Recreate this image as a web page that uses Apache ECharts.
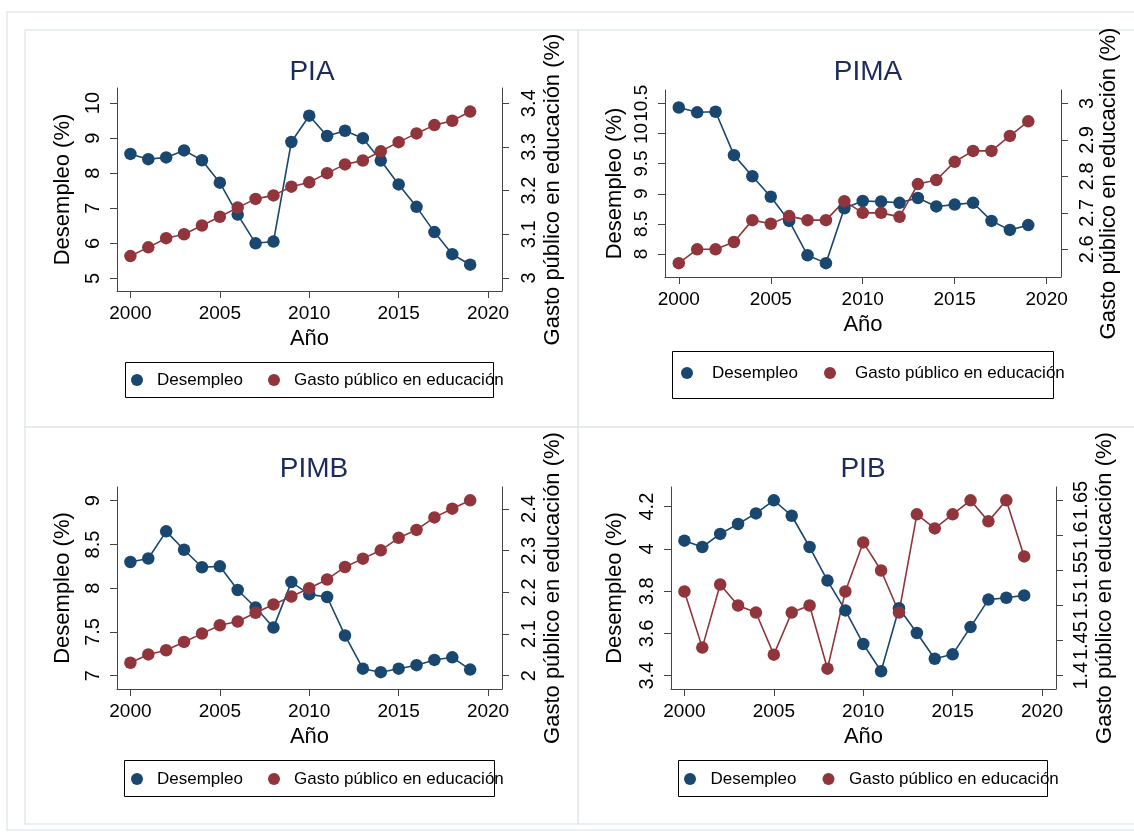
<!DOCTYPE html>
<html>
<head>
<meta charset="utf-8">
<style>
html,body{margin:0;padding:0;background:#fff;}
#c{width:1134px;height:833px;}
</style>
<script src="https://cdn.jsdelivr.net/npm/echarts@6/dist/echarts.min.js"></script>
</head>
<body>
<div id="c"></div>
<script>
// ---------- DATA ----------
const years = [2000,2001,2002,2003,2004,2005,2006,2007,2008,2009,2010,2011,2012,2013,2014,2015,2016,2017,2018,2019];

const panelTitles = ['PIA','PIMA','PIMB','PIB'];
const seriesNames = ['Desempleo','Gasto público en educación'];

const piaDesempleo  = [8.55,8.40,8.45,8.65,8.37,7.73,6.82,6.00,6.05,8.89,9.64,9.06,9.21,9.00,8.36,7.68,7.04,6.32,5.69,5.39];
const piaGasto      = [3.050,3.070,3.091,3.100,3.120,3.140,3.161,3.181,3.189,3.209,3.219,3.240,3.260,3.269,3.290,3.311,3.331,3.350,3.360,3.381];
const pimaDesempleo = [10.43,10.35,10.36,9.64,9.29,8.95,8.55,7.98,7.85,8.76,8.88,8.87,8.85,8.93,8.79,8.82,8.85,8.55,8.40,8.48];
const pimaGasto     = [2.562,2.600,2.600,2.620,2.680,2.670,2.691,2.680,2.680,2.732,2.700,2.700,2.689,2.779,2.790,2.840,2.870,2.870,2.911,2.951];
const pimbDesempleo = [8.30,8.34,8.65,8.44,8.24,8.25,7.98,7.78,7.55,8.07,7.93,7.90,7.46,7.08,7.04,7.08,7.12,7.18,7.21,7.07];
const pimbGasto     = [2.031,2.051,2.061,2.081,2.101,2.121,2.130,2.151,2.171,2.190,2.210,2.231,2.261,2.281,2.301,2.331,2.350,2.380,2.401,2.421];
const pibDesempleo  = [4.039,4.009,4.071,4.118,4.168,4.230,4.157,4.009,3.850,3.709,3.550,3.421,3.719,3.602,3.480,3.501,3.630,3.760,3.769,3.780];
const pibGasto      = [1.520,1.440,1.530,1.500,1.490,1.430,1.490,1.500,1.410,1.520,1.590,1.550,1.490,1.630,1.610,1.630,1.650,1.620,1.650,1.570];

const xTicks = [2000,2005,2010,2015,2020];
const piaLeftTicks   = [5,6,7,8,9,10];
const piaRightTicks  = [3,3.1,3.2,3.3,3.4];
const pimaLeftTicks  = [8,8.5,9,9.5,10,10.5];
const pimaRightTicks = [2.6,2.7,2.8,2.9,3];
const pimbLeftTicks  = [7,7.5,8,8.5,9];
const pimbRightTicks = [2,2.1,2.2,2.3,2.4];
const pibLeftTicks   = [3.4,3.6,3.8,4,4.2];
const pibRightTicks  = [1.4,1.45,1.5,1.55,1.6,1.65];

// ---------- STYLE / LAYOUT ----------
const FONT = '"Liberation Sans", Arial, Helvetica, sans-serif';
const BLUE = '#1a476f';
const RED = '#90353b';
const AXIS = '#444444';

const panels = [
  {title: panelTitles[0], d: piaDesempleo,  g: piaGasto,  lt: piaLeftTicks,  rt: piaRightTicks,
   grid:{left:117,top:88,width:385,height:203}, lmin:4.64, lmax:10.43, rmin:2.970, rmax:3.435, lFont:20, rFont:20,
   titleX:307, titleY:53, lGap:43, rGap:40, lMargin:14, rMargin:17, legendX:131, legendY:371, legPad:9, legGap:25,
   box:[125,362,368,35]},
  {title: panelTitles[1], d: pimaDesempleo, g: pimaGasto, lt: pimaLeftTicks, rt: pimaRightTicks,
   grid:{left:665,top:90,width:396,height:187}, lmin:7.62, lmax:10.72, rmin:2.524, rmax:3.037, lFont:19, rFont:20,
   titleX:863, titleY:53, lGap:39, rGap:31, lMargin:14, rMargin:16, legendX:681, legendY:364, legPad:14, legGap:26,
   box:[672,351,381,47]},
  {title: panelTitles[2], d: pimbDesempleo, g: pimbGasto, lt: pimbLeftTicks, rt: pimbRightTicks,
   grid:{left:117,top:487,width:385,height:202}, lmin:6.848, lmax:9.157, rmin:1.968, rmax:2.453, lFont:20, rFont:20,
   titleX:309, titleY:450, lGap:43, rGap:40, lMargin:14, rMargin:17, legendX:131, legendY:770, legPad:9, legGap:25,
   box:[124,760,370,36]},
  {title: panelTitles[3], d: pibDesempleo,  g: pibGasto,  lt: pibLeftTicks,  rt: pibRightTicks,
   grid:{left:671,top:487,width:385,height:202}, lmin:3.337, lmax:4.293, rmin:1.381, rmax:1.669, lFont:20, rFont:20,
   titleX:858, titleY:450, lGap:45, rGap:38, lMargin:14, rMargin:15, legendX:684, legendY:770, legPad:9.5, legGap:26,
   box:[678,760,369,36]}
];

const pairs = arr => years.map((y,i)=>[y, arr[i]]);

const option = {
  backgroundColor:'#ffffff',
  animation:false,
  title:[], grid:[], xAxis:[], yAxis:[], series:[], legend:[], graphic:[]
};

// frames
const frameStroke = '#e3eaed';
option.graphic.push({type:'rect', silent:true, shape:{x:7,y:12,width:1140,height:818}, style:{fill:'none', stroke:frameStroke, lineWidth:1.5}});
[[25,30,553,397],[578,30,560,397],[25,427,553,397],[578,427,560,397]].forEach(r=>{
  option.graphic.push({type:'rect', silent:true, shape:{x:r[0],y:r[1],width:r[2],height:r[3]}, style:{fill:'none', stroke:frameStroke, lineWidth:1.5}});
});

panels.forEach((p,i)=>{
  option.title.push({text:p.title, left:p.titleX, top:p.titleY, textAlign:'center',
    textStyle:{fontFamily:FONT, fontSize:28, fontWeight:'normal', color:'#1c2b5a'}});
  option.grid.push(Object.assign({containLabel:false}, p.grid));
  option.xAxis.push({
    type:'value', gridIndex:i, min:1999.25, max:2020.78,
    name:'Año', nameLocation:'middle', nameGap:37,
    nameTextStyle:{fontFamily:FONT, fontSize:22, color:'#000'},
    axisLine:{show:true, onZero:false, lineStyle:{color:AXIS, width:1}},
    axisTick:{show:true, length:7, lineStyle:{color:AXIS}, customValues:xTicks},
    axisLabel:{fontFamily:FONT, fontSize:19, color:'#000', margin:13, customValues:xTicks,
      formatter: v => String(v)},
    splitLine:{show:false}
  });
  option.yAxis.push({
    type:'value', gridIndex:i, position:'left', min:p.lmin, max:p.lmax,
    name:'Desempleo (%)', nameLocation:'middle', nameGap:p.lGap, nameRotate:90,
    nameTextStyle:{fontFamily:FONT, fontSize:22, color:'#000'},
    axisLine:{show:true, onZero:false, lineStyle:{color:AXIS, width:1}},
    axisTick:{show:true, length:7, lineStyle:{color:AXIS}, customValues:p.lt},
    axisLabel:{fontFamily:FONT, fontSize:p.lFont, color:'#000', margin:p.lMargin, rotate:90, customValues:p.lt,
      formatter: v => String(v)},
    splitLine:{show:false}
  });
  option.yAxis.push({
    type:'value', gridIndex:i, position:'right', min:p.rmin, max:p.rmax,
    name:'Gasto público en educación (%)', nameLocation:'middle', nameGap:p.rGap, nameRotate:90,
    nameTextStyle:{fontFamily:FONT, fontSize:22, color:'#000'},
    axisLine:{show:true, onZero:false, lineStyle:{color:AXIS, width:1}},
    axisTick:{show:true, length:7, lineStyle:{color:AXIS}, customValues:p.rt},
    axisLabel:{fontFamily:FONT, fontSize:p.rFont, color:'#000', margin:p.rMargin, rotate:90, customValues:p.rt,
      formatter: v => String(v)},
    splitLine:{show:false}
  });
  option.series.push({
    name:seriesNames[0], type:'line', xAxisIndex:i, yAxisIndex:2*i, data:pairs(p.d),
    symbol:'circle', symbolSize:12.5, showAllSymbol:true,
    itemStyle:{color:BLUE}, lineStyle:{color:BLUE, width:1.6}
  });
  option.series.push({
    name:seriesNames[1], type:'line', xAxisIndex:i, yAxisIndex:2*i+1, data:pairs(p.g),
    symbol:'circle', symbolSize:12.5, showAllSymbol:true,
    itemStyle:{color:RED}, lineStyle:{color:RED, width:1.6}
  });
  option.legend.push({
    data:seriesNames, left:p.legendX, top:p.legendY, orient:'horizontal',
    padding:0, itemGap:p.legGap, icon:'circle', itemWidth:12, itemHeight:12,
    selectedMode:false,
    textStyle:{fontFamily:FONT, fontSize:17, color:'#000', lineHeight:18, padding:[0,0,0,p.legPad]}
  });
  option.graphic.push({type:'rect', silent:true, shape:{x:p.box[0]+0.5,y:p.box[1]+0.5,width:p.box[2],height:p.box[3]},
    style:{fill:'none', stroke:'#000', lineWidth:1}, z:-1});
});

const chart = echarts.init(document.getElementById('c'), null, {renderer:'canvas'});
chart.setOption(option);
</script>
</body>
</html>
